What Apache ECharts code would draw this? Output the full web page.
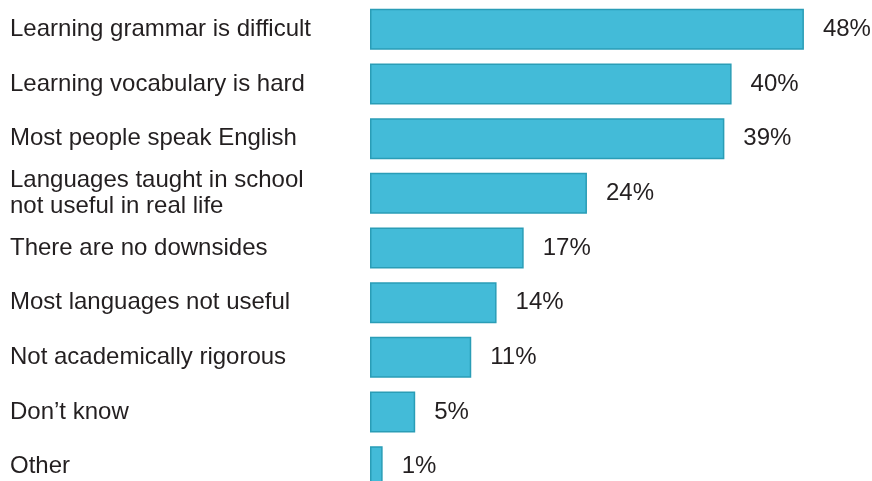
<!DOCTYPE html>
<html lang="en">
<head>
    <meta charset="UTF-8">
    <title>Downsides</title>
    <script src="https://cdn.jsdelivr.net/npm/echarts@6/dist/echarts.min.js"></script>
    <style>
        html, body { margin: 0; padding: 0; background: #ffffff; }
        #main { width: 872px; height: 481px; }
    </style>
</head>
<body>
<div id="main"></div>
<script type="text/javascript">
    // categories top to bottom
    var categories = [
        'Learning grammar is difficult',
        'Learning vocabulary is hard',
        'Most people speak English',
        'Languages taught in school\nnot useful in real life',
        'There are no downsides',
        'Most languages not useful',
        'Not academically rigorous',
        "Don\u2019t know",
        'Other'
    ];
    // bar lengths
    var values = [48, 40, 39.2, 24, 17, 14, 11.2, 5, 1.4];
    // printed labels
    var valueLabels = ['48%', '40%', '39%', '24%', '17%', '14%', '11%', '5%', '1%'];

    var font = "'Liberation Sans', Arial, sans-serif";
    var myChart = echarts.init(document.getElementById('main'));

    var option = {
        backgroundColor: '#ffffff',
        animation: false,
        grid: {
            left: 370,
            top: 2,
            width: 452,
            height: 492,
            outerBoundsMode: 'none',
            containLabel: false
        },
        xAxis: {
            type: 'value',
            min: 0,
            max: 50,
            show: false
        },
        yAxis: {
            type: 'category',
            inverse: true,
            data: categories,
            axisLine: { show: false },
            axisTick: { show: false },
            axisLabel: {
                align: 'left',
                margin: 360,
                color: '#231f20',
                fontFamily: font,
                fontSize: 24,
                lineHeight: 26
            }
        },
        series: [{
            type: 'bar',
            data: values,
            barWidth: 41,
            itemStyle: {
                color: '#43bbd8',
                borderColor: '#2a9db6',
                borderWidth: 1.5
            },
            label: {
                show: true,
                position: 'right',
                distance: 19,
                color: '#231f20',
                fontFamily: font,
                fontSize: 24,
                formatter: function (p) {
                    return valueLabels[p.dataIndex];
                }
            }
        }]
    };

    myChart.setOption(option);
</script>
</body>
</html>
